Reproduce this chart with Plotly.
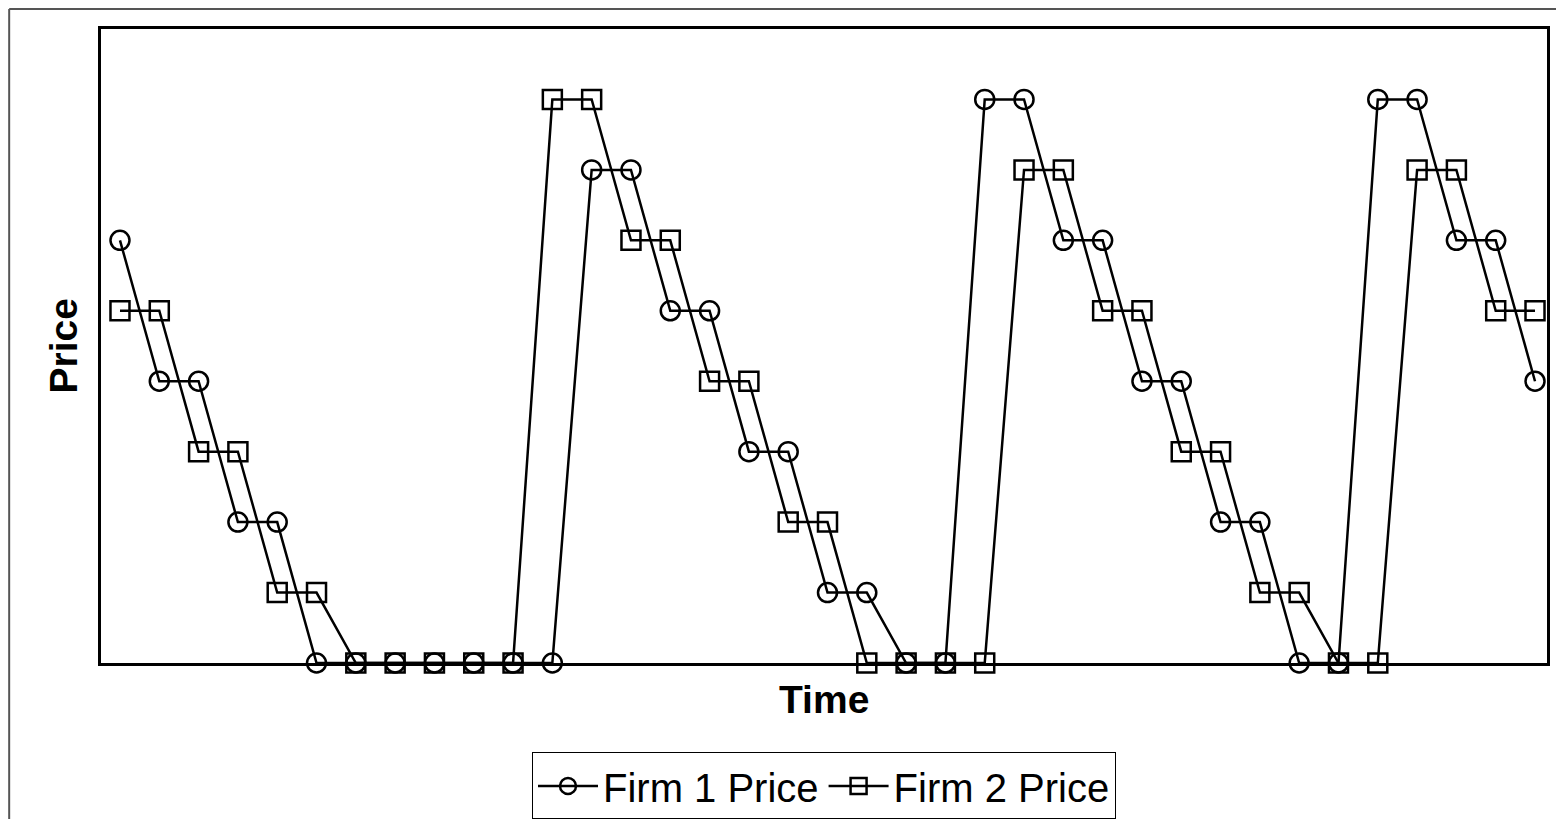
import plotly.graph_objects as go

time = list(range(1, 38))
firm1_price = [6, 4, 4, 2, 2, 0, 0, 0, 0, 0, 0, 0, 7, 7, 5, 5, 3, 3, 1, 1, 0, 0,
               8, 8, 6, 6, 4, 4, 2, 2, 0, 0, 8, 8, 6, 6, 4]
firm2_price = [5, 5, 3, 3, 1, 1, 0, 0, 0, 0, 0, 8, 8, 6, 6, 4, 4, 2, 2, 0, 0, 0,
               0, 7, 7, 5, 5, 3, 3, 1, 1, 0, 0, 7, 7, 5, 5]

FONT = "Liberation Sans, Arial, Helvetica, sans-serif"

fig = go.Figure()
fig.add_trace(go.Scatter(
    x=time, y=firm1_price, mode="lines+markers", name="Firm 1 Price",
    line=dict(color="black", width=2.5),
    marker=dict(symbol="circle-open", size=19, color="black", line=dict(width=2.5)),
    cliponaxis=False,
))
fig.add_trace(go.Scatter(
    x=time, y=firm2_price, mode="lines+markers", name="Firm 2 Price",
    line=dict(color="black", width=2.5),
    marker=dict(symbol="square-open", size=19, color="black", line=dict(width=2.5)),
    cliponaxis=False,
))

fig.update_xaxes(range=[0.517, 37.305], showticklabels=False, ticks="", showgrid=False,
                 zeroline=False, showline=True, linecolor="black", linewidth=2.5, mirror=True)
fig.update_yaxes(range=[0, 9], showticklabels=False, ticks="", showgrid=False,
                 zeroline=False, showline=True, linecolor="black", linewidth=2.5, mirror=True)

fig.add_annotation(text="<b>Time</b>", x=0.5, y=-0.057, xref="paper", yref="paper",
                   showarrow=False, xanchor="center", yanchor="middle",
                   font=dict(family=FONT, size=39, color="black"))
fig.add_annotation(text="<b>Price</b>", x=-0.026, y=0.5, xref="paper", yref="paper",
                   showarrow=False, xanchor="center", yanchor="middle", textangle=-90,
                   font=dict(family=FONT, size=39, color="black"))

# outer frame (left and top edges visible)
fig.add_shape(type="line", xref="paper", yref="paper", x0=-0.0635, x1=-0.0635,
              y0=-0.5, y1=1.0315, line=dict(color="#555555", width=2))
fig.add_shape(type="line", xref="paper", yref="paper", x0=-0.0635, x1=1.5,
              y0=1.0315, y1=1.0315, line=dict(color="#555555", width=2))

fig.update_layout(
    width=1556, height=811,
    margin=dict(l=93, r=17, t=21, b=156, autoexpand=False),
    paper_bgcolor="white", plot_bgcolor="white",
    font=dict(family=FONT, size=40, color="black"),
    showlegend=True,
    legend=dict(orientation="h", x=0.5, xanchor="center", y=-0.194, yanchor="middle",
                bordercolor="black", borderwidth=1, bgcolor="white",
                font=dict(family=FONT, size=40, color="black"),
                itemwidth=60, tracegroupgap=0),
)

fig.write_html("out.html")
